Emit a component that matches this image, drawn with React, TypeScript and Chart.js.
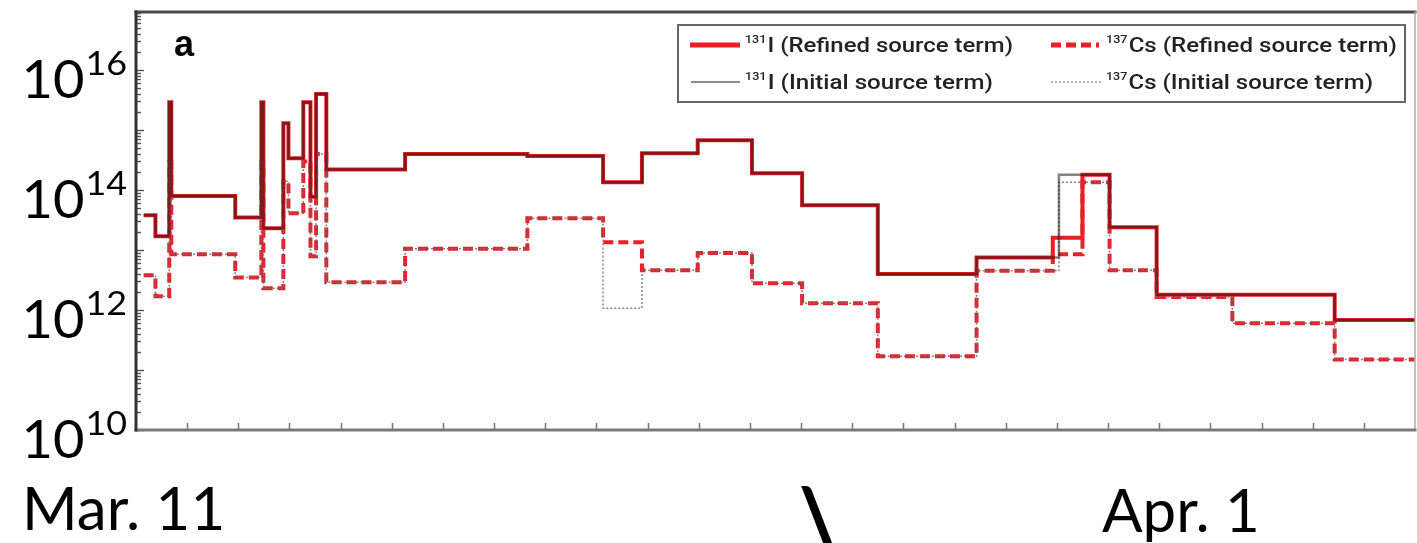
import React, { useEffect, useRef } from "react";
import { Chart, registerables } from "chart.js";

Chart.register(...registerables);

// Step boundaries, in days since the start of the axis
const stepTimes = [
  0.15, 0.38, 0.65, 0.69, 1.94, 2.45, 2.49, 2.88, 2.98, 3.27, 3.41, 3.52, 3.72,
  5.26, 7.65, 9.13, 9.89, 10.98, 12.04, 13.02, 14.5, 16.43, 17.92, 18.04, 18.5,
  19.03, 19.95, 21.43, 23.43, 25.0,
];

// Release rates (one value per interval between consecutive step times)
const i131Refined = [
  3.8e13, 1.7e13, 2.9e15, 8e13, 3.5e13, 2.9e15, 2.3e13, 1.3e15, 3.4e14, 2.9e15,
  7.7e13, 4e15, 2.2e14, 4e14, 3.7e14, 1.35e14, 4.1e14, 6.8e14, 1.9e14, 5.6e13,
  4e12, 7.5e12, 1.6e13, 1.6e13, 1.8e14, 2.4e13, 1.8e12, 1.8e12, 6.8e11,
];
const i131Initial = [
  3.8e13, 1.7e13, 2.9e15, 8e13, 3.5e13, 2.9e15, 2.3e13, 1.3e15, 3.4e14, 2.9e15,
  7.7e13, 4e15, 2.2e14, 4e14, 3.7e14, 1.35e14, 4.1e14, 6.8e14, 1.9e14, 5.6e13,
  4e12, 7.5e12, 7.5e12, 1.8e14, 1.8e14, 2.4e13, 1.8e12, 1.8e12, 6.8e11,
];
const cs137Refined = [
  3.8e12, 1.7e12, 2.9e14, 8.5e12, 3.5e12, 2.9e14, 2.3e12, 1.4e14, 4.1e13, 3e14,
  7.9e12, 4e14, 2.9e12, 1.05e13, 3.4e13, 1.35e13, 4.6e12, 8.9e12, 2.8e12, 1.3e12,
  1.7e11, 4.5e12, 8.5e12, 8.5e12, 1.35e14, 4.6e12, 1.65e12, 6e11, 1.5e11,
];
const cs137Initial = [
  3.8e12, 1.7e12, 2.9e14, 8.5e12, 3.5e12, 2.9e14, 2.3e12, 1.4e14, 4.1e13, 3e14,
  7.9e12, 4e14, 2.9e12, 1.05e13, 3.4e13, 1.07e12, 4.6e12, 8.9e12, 2.8e12, 1.3e12,
  1.7e11, 4.5e12, 4.5e12, 1.35e14, 1.35e14, 4.6e12, 1.65e12, 6e11, 1.5e11,
];

const seriesIsotopes = ["131", "137", "131", "137"];
const seriesNames = [
  "I (Refined source term)",
  "Cs (Refined source term)",
  "I (Initial source term)",
  "Cs (Initial source term)",
];

const yTickExponents = [10, 12, 14, 16];
const xMin = 0;
const xMax = 25;
const yMin = 1e10;
const yMax = 9.3e16;
const dateLabels = ["Mar. 11", "Apr. 1"];
const panelLabel = "a";
const cutGlyph = "\\";

const toSteps = (values: number[]) =>
  stepTimes.map((t, i) => ({ x: t, y: values[Math.min(i, values.length - 1)] }));

const decorPlugin = {
  id: "decor",
  afterDraw(chart: any) {
    const { ctx, chartArea: a, scales } = chart;
    const xs = scales.x;
    const ys = scales.y;
    ctx.save();

    // y ticks (inward, log minor ticks)
    ctx.strokeStyle = "#555";
    ctx.lineWidth = 1.4;
    for (let e = 10; e <= 16; e++) {
      for (let k = 1; k <= 9; k++) {
        const v = k * Math.pow(10, e);
        if (v > yMax) continue;
        const py = Math.round(ys.getPixelForValue(v)) + 0.5;
        const len = k === 1 ? 8 : 5;
        ctx.beginPath();
        ctx.moveTo(a.left, py);
        ctx.lineTo(a.left + len, py);
        ctx.stroke();
      }
    }
    // x ticks (inward)
    ctx.strokeStyle = "#777";
    ctx.lineWidth = 1.5;
    for (let t = Math.ceil(xMin) + 1; t < xMax; t++) {
      const px = Math.round(xs.getPixelForValue(t)) + 0.5;
      ctx.beginPath();
      ctx.moveTo(px, a.bottom);
      ctx.lineTo(px, a.bottom - 7);
      ctx.stroke();
    }

    // frame
    ctx.lineCap = "square";
    ctx.strokeStyle = "#4a4a4a";
    ctx.lineWidth = 3;
    ctx.beginPath();
    ctx.moveTo(a.left, a.top);
    ctx.lineTo(a.right, a.top);
    ctx.stroke();
    ctx.strokeStyle = "#aaa";
    ctx.lineWidth = 1.5;
    ctx.beginPath();
    ctx.moveTo(a.right, a.top);
    ctx.lineTo(a.right, a.bottom);
    ctx.stroke();
    ctx.strokeStyle = "#7a7a7a";
    ctx.lineWidth = 3;
    ctx.beginPath();
    ctx.moveTo(a.left, a.bottom);
    ctx.lineTo(a.right, a.bottom);
    ctx.stroke();
    ctx.strokeStyle = "#333";
    ctx.lineWidth = 3;
    ctx.beginPath();
    ctx.moveTo(a.left, a.top);
    ctx.lineTo(a.left, a.bottom);
    ctx.stroke();

    // y labels 10^n
    ctx.fillStyle = "#000";
    ctx.textBaseline = "alphabetic";
    ctx.textAlign = "left";
    for (const e of yTickExponents) {
      const py = ys.getPixelForValue(Math.pow(10, e));
      const sup = String(e);
      ctx.font = '32px Lato';
      const supW = ctx.measureText(sup).width;
      const supX = 127 - supW * 1.12;
      ctx.save();
      ctx.translate(supX, py + 5);
      ctx.scale(1.12, 1);
      ctx.fillText(sup, 0, 0);
      ctx.restore();
      ctx.font = '52px Lato';
      const bw = ctx.measureText("10").width;
      const bs = 63 / bw;
      ctx.save();
      ctx.translate(supX - 63 - 1, py + 28);
      ctx.scale(bs, 1);
      ctx.fillText("10", 0, 0);
      ctx.restore();
    }

    // date labels
    ctx.textAlign = "left";
    ctx.font = '60px Lato';
    ctx.fillText(dateLabels[0], 22, 530);
    ctx.fillText(dateLabels[1], 1102, 532);
    ctx.font = '900 80px Lato';
    ctx.fillText(cutGlyph, 799, 546);

    // panel label
    ctx.font = 'bold 36px "Liberation Sans"';
    ctx.fillText(panelLabel, 174, 56);

    // legend box
    const lx0 = 678, ly0 = 25, lx1 = 1405, ly1 = 102;
    ctx.fillStyle = "#fff";
    ctx.fillRect(lx0, ly0, lx1 - lx0, ly1 - ly0);
    ctx.strokeStyle = "#666";
    ctx.lineWidth = 2;
    ctx.strokeRect(lx0, ly0, lx1 - lx0, ly1 - ly0);

    const slots = [
      { ds: 0, sx0: 690, sx1: 740, tx: 745, tw: 268, cy: 45 },
      { ds: 1, sx0: 1051, sx1: 1099, tx: 1106, tw: 291, cy: 45 },
      { ds: 2, sx0: 691, sx1: 740, tx: 745, tw: 248, cy: 82 },
      { ds: 3, sx0: 1051, sx1: 1101, tx: 1106, tw: 267, cy: 82 },
    ];
    for (const s of slots) {
      const d = chart.data.datasets[s.ds];
      ctx.save();
      ctx.strokeStyle = d.legendColor;
      ctx.lineWidth = d.legendWidth;
      ctx.lineCap = "butt";
      ctx.setLineDash(d.borderDash || []);
      ctx.beginPath();
      ctx.moveTo(s.sx0, s.cy);
      ctx.lineTo(s.sx1, s.cy);
      ctx.stroke();
      ctx.restore();

      const sup = seriesIsotopes[s.ds];
      const main = seriesNames[s.ds];
      ctx.save();
      ctx.font = '500 11px Roboto';
      const sw = ctx.measureText(sup).width;
      ctx.font = '500 21px Roboto';
      const mw = ctx.measureText(main).width;
      const sc = s.tw / (sw + mw + 1);
      ctx.translate(s.tx, s.cy + 7);
      ctx.scale(sc, 1);
      ctx.fillStyle = "#222";
      ctx.textAlign = "left";
      ctx.font = '500 11px Roboto';
      ctx.fillText(sup, 0, -9);
      ctx.font = '500 21px Roboto';
      ctx.fillText(main, sw + 1, 0);
      ctx.restore();
    }

    ctx.restore();
  },
};

export default function App() {
  const canvasRef = useRef<HTMLCanvasElement | null>(null);

  useEffect(() => {
    const canvas = canvasRef.current;
    if (!canvas) return;
    const chart = new Chart(canvas, {
      type: "line",
      data: {
        datasets: [
          {
            label: "131I (Refined source term)",
            data: toSteps(i131Refined),
            stepped: "before",
            borderColor: "#ee1c25",
            legendColor: "#ee1c25",
            legendWidth: 5,
            borderWidth: 4,
            pointRadius: 0,
            order: 3,
          } as any,
          {
            label: "137Cs (Refined source term)",
            data: toSteps(cs137Refined),
            stepped: "before",
            borderColor: "#e8202a",
            legendColor: "#ee1c25",
            legendWidth: 5,
            borderWidth: 4,
            borderDash: [10, 5],
            pointRadius: 0,
            order: 4,
          } as any,
          {
            label: "131I (Initial source term)",
            data: toSteps(i131Initial),
            stepped: "before",
            borderColor: "rgba(40,20,20,0.55)",
            legendColor: "#666",
            legendWidth: 1.5,
            borderWidth: 2.5,
            pointRadius: 0,
            order: 1,
          } as any,
          {
            label: "137Cs (Initial source term)",
            data: toSteps(cs137Initial),
            stepped: "before",
            borderColor: "rgba(110,110,110,0.85)",
            legendColor: "#999",
            legendWidth: 1.5,
            borderWidth: 1.5,
            borderDash: [2, 2],
            pointRadius: 0,
            order: 2,
          } as any,
        ],
      },
      options: {
        animation: false,
        responsive: false,
        devicePixelRatio: 1,
        layout: { padding: { left: 136, top: 12, right: 2, bottom: 113 } },
        scales: {
          x: { type: "linear", min: xMin, max: xMax, display: false },
          y: { type: "logarithmic", min: yMin, max: yMax, display: false },
        },
        plugins: { legend: { display: false }, tooltip: { enabled: false } },
        elements: { line: { tension: 0 } },
      },
      plugins: [decorPlugin],
    });
    return () => chart.destroy();
  }, []);

  return (
    <div
      style={{
        position: "fixed",
        left: 0,
        top: 0,
        width: 1417,
        height: 543,
        background: "#fff",
      }}
    >
      <canvas ref={canvasRef} width={1417} height={543} style={{ display: "block" }} />
    </div>
  );
}
